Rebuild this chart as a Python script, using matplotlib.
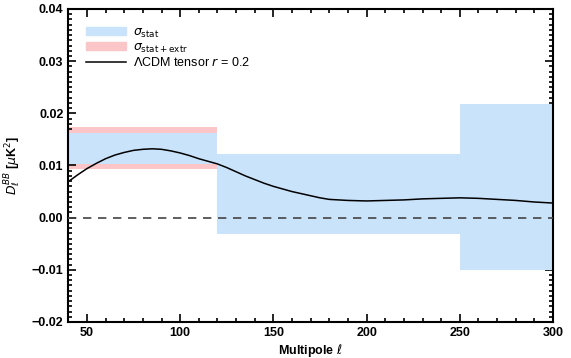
import matplotlib
matplotlib.use("Agg")
import matplotlib.pyplot as plt
from matplotlib.patches import Patch
from matplotlib.lines import Line2D
from matplotlib.ticker import MultipleLocator, FuncFormatter

# bins in multipole
bin_lo = [40, 120, 250]
bin_hi = [120, 250, 300]
stat_lo = [0.0102, -0.0031, -0.0101]
stat_hi = [0.0162, 0.0122, 0.0217]
extr_lo = [0.0094, -0.0032, -0.0101]
extr_hi = [0.0174, 0.0122, 0.0217]

# LCDM tensor r=0.2 curve
ell = [40, 45, 50, 55, 60, 65, 70, 75, 80, 85, 90, 95, 100, 105, 110, 115, 120,
       125, 130, 135, 140, 145, 150, 155, 160, 165, 170, 175, 180, 190, 200,
       210, 220, 230, 240, 250, 260, 270, 280, 290, 300]
dl_bb = [0.0069, 0.0082, 0.0094, 0.0104, 0.0113, 0.0120, 0.0125, 0.0129, 0.0131,
         0.0132, 0.0131, 0.0128, 0.0124, 0.0119, 0.0113, 0.0108, 0.0103,
         0.0096, 0.0088, 0.0080, 0.0073, 0.0066, 0.0060, 0.0055, 0.0050,
         0.0046, 0.0042, 0.0038, 0.0035, 0.0033, 0.0032, 0.0033, 0.0034,
         0.0036, 0.0037, 0.0038, 0.0037, 0.0035, 0.0033, 0.0030, 0.0028]

blue = "#c9e3fb"
red = "#fcc6c8"

plt.rcParams["font.family"] = ["Liberation Sans", "DejaVu Sans"]
plt.rcParams["mathtext.fontset"] = "dejavusans"

fig = plt.figure(figsize=(5.71, 3.58), dpi=100)
ax = fig.add_axes([0.1196, 0.1006, 0.8489, 0.8743])

for lo, hi, a, b in zip(bin_lo, bin_hi, extr_lo, extr_hi):
    ax.fill_between([lo, hi], a, b, color=red, lw=0, zorder=1)
for lo, hi, a, b in zip(bin_lo, bin_hi, stat_lo, stat_hi):
    ax.fill_between([lo, hi], a, b, color=blue, lw=0, zorder=2)

ax.axhline(0, color="#444444", lw=1.2, ls=(0, (5, 4)), zorder=3)
ax.plot(ell, dl_bb, color="black", lw=1.1, zorder=4)

ax.set_xlim(40, 300)
ax.set_ylim(-0.02, 0.04)
ax.xaxis.set_major_locator(MultipleLocator(50))
ax.xaxis.set_minor_locator(MultipleLocator(10))
ax.yaxis.set_major_locator(MultipleLocator(0.01))
ax.yaxis.set_minor_locator(MultipleLocator(0.001))
ax.yaxis.set_major_formatter(
    FuncFormatter(lambda v, p: ("%.2f" % v).replace("-", "\u2212")))
ax.tick_params(which="both", direction="in", top=True, right=True, width=1.2,
               labelsize=9)
ax.tick_params(which="major", length=6)
ax.tick_params(which="minor", length=3)
for lab in ax.get_xticklabels() + ax.get_yticklabels():
    lab.set_fontweight("bold")
for s in ax.spines.values():
    s.set_linewidth(1.5)

ax.set_xlabel(r"Multipole $\ell$", fontsize=9, fontweight="bold", labelpad=2)
ax.set_ylabel(r"$D_\ell^{BB}$ [$\mu$K$^2$]", fontsize=9, fontweight="bold",
              labelpad=6)

handles = [Patch(color=blue), Patch(color=red),
           Line2D([], [], color="black", lw=1.1)]
labels = [r"$\sigma_{\rm stat}$", r"$\sigma_{\rm stat+extr}$",
          r"$\Lambda$CDM tensor $r$ = 0.2"]
leg = ax.legend(handles, labels, loc="upper left", frameon=False, fontsize=9,
                handlelength=3.2, handleheight=0.5, labelspacing=0.15,
                borderaxespad=1.0, handletextpad=0.6)

fig.savefig("out.png", dpi=100)
